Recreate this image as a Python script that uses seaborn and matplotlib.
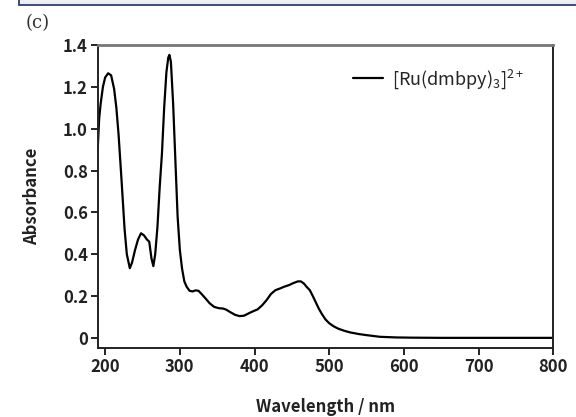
import matplotlib
matplotlib.use("Agg")
import numpy as np
import pandas as pd
import matplotlib.pyplot as plt
import seaborn as sns
from matplotlib.patches import Rectangle

# Absorption spectrum
wavelength = [190, 192, 194, 197, 200, 204, 208, 212, 215, 218, 222, 226, 229,
              233, 236, 240, 244, 248, 252, 256, 259, 262, 264.5, 267, 270, 273,
              276, 279, 282, 284.5, 286, 288, 291, 294, 297, 300, 303, 306, 309,
              313, 317, 321, 325, 329, 334, 340, 346, 352, 358, 362, 368, 374,
              380, 386, 392, 398, 404, 410, 416, 422, 428, 434, 440, 446, 452,
              458, 462, 466, 470, 474, 478, 482, 486, 490, 495, 500, 506, 512,
              520, 528, 540, 550, 568, 590, 610, 650, 700, 750, 800]
absorbance = [0.90, 1.05, 1.12, 1.20, 1.245, 1.265, 1.255, 1.19, 1.10, 0.97, 0.75,
              0.52, 0.40, 0.333, 0.36, 0.42, 0.47, 0.50, 0.49, 0.47, 0.46, 0.38,
              0.343, 0.40, 0.53, 0.72, 0.88, 1.10, 1.27, 1.34, 1.353, 1.32, 1.12,
              0.85, 0.58, 0.42, 0.33, 0.27, 0.245, 0.225, 0.222, 0.227, 0.225,
              0.21, 0.19, 0.165, 0.148, 0.142, 0.140, 0.135, 0.122, 0.110, 0.104,
              0.106, 0.117, 0.127, 0.136, 0.155, 0.18, 0.21, 0.228, 0.236, 0.245,
              0.252, 0.262, 0.270, 0.270, 0.260, 0.243, 0.228, 0.20, 0.17, 0.14,
              0.115, 0.088, 0.07, 0.055, 0.044, 0.034, 0.026, 0.018, 0.013, 0.005,
              0.002, 0.001, 0.0, 0.0, 0.0, 0.0]
series_label = r"[Ru(dmbpy)$_3$]$^{2+}$"
x_ticks = [200, 300, 400, 500, 600, 700, 800]
y_ticks = [0, 0.2, 0.4, 0.6, 0.8, 1.0, 1.2, 1.4]
y_tick_labels = ["0", "0.2", "0.4", "0.6", "0.8", "1.0", "1.2", "1.4"]

df = pd.DataFrame({"Wavelength": wavelength, "Absorbance": absorbance})

sns.set_style("ticks")
plt.rcParams["font.family"] = ["Noto Sans CJK JP", "DejaVu Sans"]
plt.rcParams["mathtext.default"] = "regular"

fig = plt.figure(figsize=(5.76, 4.17), dpi=100)
ax = fig.add_axes([0.1696, 0.1647, 0.7910, 0.7273])

sns.lineplot(data=df, x="Wavelength", y="Absorbance", ax=ax, color="black",
             linewidth=1.6, sort=False, estimator=None, label=series_label)

ax.set_xlim(190, 800)
ax.set_ylim(-0.05, 1.4)
ax.set_xticks(x_ticks)
ax.set_yticks(y_ticks)
ax.set_yticklabels(y_tick_labels)

for side in ["left", "bottom", "right"]:
    ax.spines[side].set_linewidth(1.4)
    ax.spines[side].set_color("#222222")
ax.spines["top"].set_linewidth(2.0)
ax.spines["top"].set_color("#777777")
ax.tick_params(direction="out", length=5, width=1.4, color="#222222",
               labelsize=12, pad=2, labelcolor="#222222")
for lbl in ax.get_xticklabels() + ax.get_yticklabels():
    lbl.set_fontweight("bold")

ax.set_xlabel("Wavelength / nm", fontsize=12, fontweight="bold", labelpad=16,
              color="#222222")
ax.set_ylabel("Absorbance", fontsize=12, fontweight="bold", labelpad=16,
              color="#222222")

leg = ax.legend(loc="center left", bbox_to_anchor=(0.561, 0.888), frameon=False,
                borderpad=0, borderaxespad=0, handlelength=1.66,
                handletextpad=0.48, fontsize=13)

# panel tag and the page strip at the top
fig.text(0.045, 0.945, "(c)", family="DejaVu Serif", fontsize=13, va="center",
         ha="left", color="#333333")
fig.patches.append(Rectangle((19 / 576, 1 - 4.5 / 417), 1.0, 0.05,
                             transform=fig.transFigure, facecolor="#eceef3",
                             edgecolor="#1f2d6b", linewidth=1.2))

fig.savefig("out.png", dpi=100)
